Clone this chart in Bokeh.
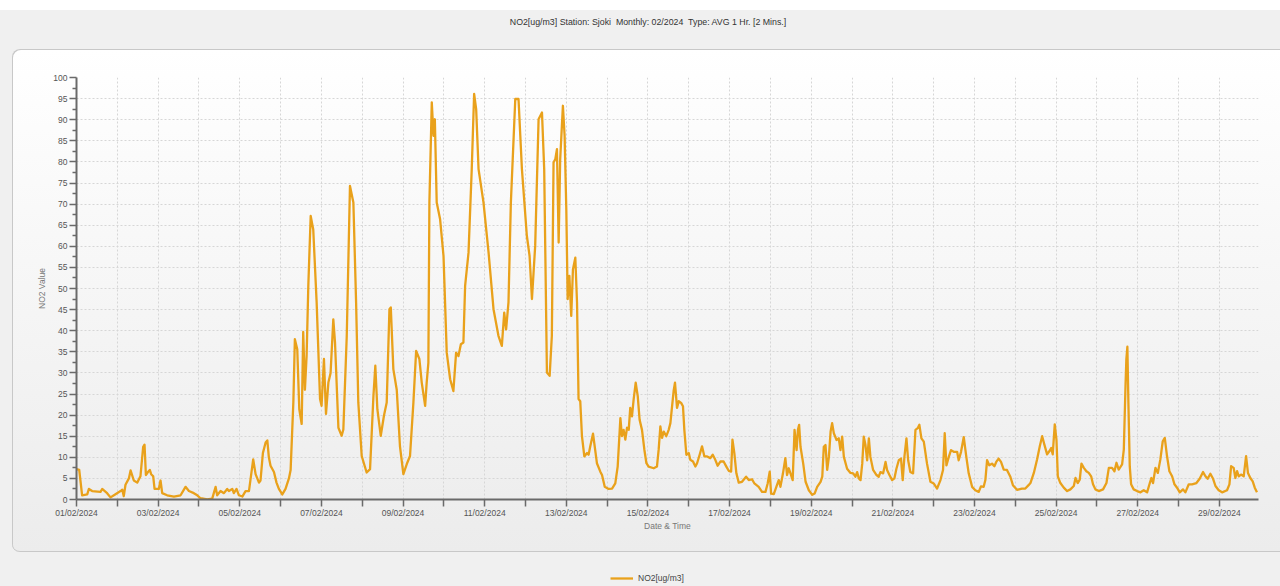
import pandas as pd
from bokeh.plotting import figure
from bokeh.layouts import column
from bokeh.models import (ColumnDataSource, FixedTicker, DatetimeTickFormatter, Legend, LegendItem,
                          Range1d, Div)
from bokeh.embed import file_html
from bokeh.resources import INLINE

# ---------------- data ----------------
title_text = "NO2[ug/m3] Station: Sjoki&nbsp; Monthly: 02/2024&nbsp; Type: AVG 1 Hr. [2 Mins.]"
series_name = "NO2[ug/m3]"
x_title = "Date & Time"
y_title = "NO2 Value"
start = "2024-02-01 00:00"

# hours after 01/02/2024 00:00
hours = [
    0.0, 1.6, 3.3, 6.3, 7.3, 9.2, 14.1, 15.1, 18.0, 20.0, 22.0, 25.9, 26.9, 27.8, 28.8, 30.8, 31.8,
    33.7, 35.7, 37.6, 39.2, 40.0, 40.8, 42.0, 43.1, 43.9, 45.1, 45.9, 48.4, 49.4, 50.4, 53.3, 57.3,
    61.2, 64.1, 66.1, 69.0, 71.0, 72.9, 76.9, 79.8, 81.8, 82.7, 84.7, 86.7, 88.6, 89.6, 91.6, 92.5,
    94.1, 95.5, 97.5, 99.4, 101.4, 103.9, 105.3, 107.3, 108.2, 109.6, 111.2, 112.2, 113.1, 114.1,
    116.1, 117.6, 119.0, 121.0, 122.9, 124.9, 125.9,
    127.5, 128.4, 129.8, 131.0, 132.4, 133.3, 134.3, 135.3, 136.3, 137.7, 139.2, 141.2, 143.2,
    144.1, 145.5, 146.7, 148.1, 149.4, 151.0, 152.0, 154.0, 155.9, 156.9, 158.9, 160.8, 162.8,
    164.4, 165.7, 167.7, 170.6, 172.6, 174.6, 175.7, 176.9, 178.9, 180.8, 182.4, 184.0, 184.8,
    186.3, 188.3, 190.2, 192.2, 194.2, 196.1, 198.1, 199.7, 201.6, 203.0, 205.0, 205.9, 206.9,
    207.5, 208.9, 209.9, 210.7, 211.8, 213.8, 215.8, 217.7, 219.7, 221.6, 223.2, 224.6, 226.0,
    227.5, 228.5, 230.5, 232.4, 233.8, 235.0, 236.4, 239.3, 242.3, 245.2, 248.1, 250.1, 251.5,
    252.6, 254.0, 255.4, 258.0, 259.9, 261.9, 264.8, 266.4, 267.8, 269.7, 271.7, 273.7, 275.0,
    276.6, 278.2, 279.5, 280.5, 281.5, 282.5, 283.5, 284.4, 286.0, 287.0, 288.0, 288.8, 289.8,
    290.9, 291.9, 293.3, 294.3, 295.2,
    296.2, 297.2, 298.6, 300.2, 301.1, 302.1, 303.7, 304.7, 306.0, 308.0, 309.0, 310.6, 312.9,
    314.9, 316.8, 318.2, 319.8, 320.7, 321.7, 322.7, 323.7, 324.7, 325.6, 326.6, 327.6, 328.8,
    330.0, 331.1, 332.5, 333.9, 335.1, 336.4, 339.4, 341.3, 342.3, 343.3, 344.3, 345.3, 346.8,
    348.2, 349.2, 350.2, 351.1, 351.9, 353.1, 354.1, 355.5, 356.6, 357.4, 358.6, 360.0, 360.9,
    362.5, 363.9, 364.9, 366.4, 367.8, 369.2, 370.8, 372.7, 374.1, 375.6, 377.0, 378.6, 380.5,
    382.1, 383.5, 384.9, 385.7, 386.8, 388.0, 389.4, 391.3, 393.7, 395.3, 397.2, 398.6, 401.1,
    403.1, 405.1, 406.4, 407.6, 408.4, 410.0, 411.5, 412.9, 413.9, 415.4, 416.8, 417.8, 418.8,
    419.8, 421.1,
    422.2, 423.4, 424.2, 424.9, 425.7, 427.3, 428.7, 430.6, 432.6, 434.0, 435.5, 437.5, 438.5,
    439.4, 440.4, 441.4, 442.4, 443.4, 444.3, 445.3, 446.9, 448.2, 449.2, 450.2, 451.2, 453.1,
    455.1, 456.7, 458.0, 459.0, 460.0, 461.0, 462.0, 462.9, 463.9, 464.9, 465.9, 466.8, 468.4,
    470.4, 471.7, 472.7, 474.3, 475.7, 476.6, 478.0, 479.6, 480.9, 482.1, 483.5, 484.8, 485.8,
    486.8, 488.0, 489.0, 490.3, 491.9, 493.3, 494.6, 495.6, 496.8, 498.2, 500.1, 502.1, 504.0,
    506.0, 508.0, 509.5, 510.5, 511.5, 512.9, 514.2, 515.8, 517.8, 518.7, 520.1, 521.7, 523.2,
    524.6, 526.6, 528.5, 530.5, 531.8, 533.4, 534.4, 535.4, 536.7, 538.3, 539.7, 540.8, 542.2,
    543.6, 545.2, 547.1, 549.1, 550.6, 553.0, 555.9, 557.9, 559.8,
    560.9, 562.9, 564.8, 566.4, 567.8, 569.1, 570.7, 572.1, 573.1, 574.0, 575.2, 576.2, 577.0,
    578.5, 580.5, 582.5, 584.4, 586.4, 587.4, 588.7, 589.9, 590.9, 592.3, 593.8, 595.2, 596.6,
    597.7, 599.1, 601.1, 603.6, 605.6, 607.0, 608.9, 610.3, 611.5, 612.8, 614.8, 615.8, 616.8,
    617.3, 617.9, 618.5, 619.3, 620.1, 621.6, 623.6, 625.6, 627.5, 629.5, 631.1, 632.0, 633.0,
    634.4, 635.8, 637.3, 638.7, 639.9, 641.2, 642.6, 644.2, 645.6, 647.1, 648.7, 650.6, 652.0,
    654.0, 655.9, 658.5, 660.4, 662.4, 663.8, 665.1, 666.7, 668.3, 669.7, 671.6, 673.6, 676.5,
    677.9, 678.9, 680.4, 681.4, 682.4, 683.4, 684.7, 686.3, 687.7, 688.8, 690.2, 691.6, 692.8,
    694.1,
]

no2 = [
    7.2, 7.0, 1.0, 1.2, 2.5, 2.0, 1.8, 2.5, 1.5, 0.5, 1.0, 2.0, 2.3, 0.8, 3.5, 5.0, 6.9,
    4.5, 4.0, 5.5, 12.5, 13.0, 5.8, 6.5, 7.0, 6.0, 5.5, 2.5, 2.5, 4.5, 1.5, 1.0, 0.7,
    1.0, 3.0, 2.0, 1.5, 1.0, 0.3, 0.0, 0.2, 3.0, 1.0, 2.0, 1.5, 2.5, 2.0, 2.5, 1.5,
    2.5, 1.0, 0.7, 2.0, 2.0, 9.5, 6.0, 4.0, 4.5, 11.0, 13.5, 14.0, 10.0, 8.0,
    6.5, 4.0, 2.5, 1.2, 2.5, 5.0, 7.0,
    23.0, 38.0, 35.6, 21.4, 17.9, 39.7, 26.0, 34.0, 50.6, 67.2, 64.0, 46.7, 23.8,
    22.2, 33.3, 20.3, 27.7, 30.0, 42.7, 37.2, 17.0, 15.1, 16.6, 38.7, 74.3, 70.4,
    46.7, 23.0, 10.3, 6.4, 7.2, 24.6, 31.7, 21.4, 15.1, 19.9, 23.0, 45.1, 45.5,
    30.9, 26.0, 12.6, 6.0, 8.4, 10.3, 23.0, 35.2, 33.3, 27.7, 22.2, 27.7, 32.4,
    70.4, 94.1, 86.2, 90.1, 70.4, 66.4, 57.7, 34.8, 28.5, 25.7, 34.8, 34.0, 36.8,
    37.2, 50.6, 58.5, 78.3, 96.1, 92.5, 78.3, 70.4, 58.5, 45.1, 38.8, 36.4, 44.3,
    40.3, 46.7, 70.4, 94.9, 94.9, 78.3, 62.5, 57.7, 47.5, 60.1, 90.1, 91.7, 78.3,
    30.1, 29.3, 38.8, 79.9, 80.6, 83.0, 60.9, 80.6, 93.3, 86.2, 68.8, 47.5, 53.0,
    43.5, 54.5, 57.3, 46.7, 23.8,
    23.3, 15.0, 10.2, 11.0, 10.6, 12.6, 15.6, 12.6, 8.6, 6.6, 5.8, 3.0, 2.5,
    2.6, 3.8, 7.8, 19.3, 15.0, 16.5, 14.2, 17.0, 16.5, 21.7, 19.7, 23.7, 27.7,
    24.5, 18.9, 16.5, 11.8, 8.6, 7.8, 7.4, 7.8, 11.8, 17.3, 14.6, 16.1, 15.0,
    16.5, 18.1, 22.1, 25.7, 27.7, 21.7, 23.3, 22.9, 22.1, 16.5, 10.6, 11.0, 9.4,
    9.0, 7.8, 8.6, 10.6, 12.6, 10.2, 10.2, 9.8, 10.6, 9.4, 8.0, 9.0, 9.0,
    7.8, 6.8, 6.6, 14.2, 11.0, 6.2, 4.0, 4.2, 5.4, 4.6, 4.8, 3.8, 3.0,
    1.8, 1.8, 3.8, 6.6, 1.4, 1.3, 3.0, 4.6, 3.0, 6.2, 9.8, 5.8, 7.4,
    6.2, 4.6,
    16.5, 11.7, 16.5, 17.7, 12.5, 8.5, 4.2, 2.2, 1.1, 1.4, 3.0, 4.2, 5.4,
    12.5, 12.9, 7.0, 10.1, 16.1, 18.1, 15.7, 14.1, 14.5, 11.7, 14.9, 10.1, 7.3,
    6.3, 6.2, 5.4, 6.5, 5.0, 4.6, 8.5, 14.9, 12.9, 9.3, 14.5, 10.1, 7.0,
    5.8, 5.4, 6.5, 6.2, 8.9, 7.0, 5.8, 4.6, 5.0, 7.3, 9.3, 9.7, 4.6,
    10.1, 14.5, 9.3, 6.5, 6.2, 16.5, 16.9, 17.7, 14.5, 13.7, 8.5, 4.2, 3.8,
    2.6, 4.6, 7.0, 15.7, 8.1, 10.1, 11.7, 11.3, 11.3, 9.3, 11.3, 14.8, 10.1,
    6.2, 3.0, 2.2, 1.8, 3.1, 3.0, 4.6, 9.3, 8.1, 8.5, 7.9, 8.9, 9.7,
    8.9, 7.1, 7.0, 5.4, 3.4, 2.3, 2.6, 2.6, 3.4,
    3.9, 6.3, 9.5, 12.6, 15.0, 13.0, 10.7, 11.5, 12.2, 10.7, 17.8, 14.2, 5.5,
    3.9, 2.8, 2.0, 2.4, 3.2, 5.1, 3.9, 4.7, 8.5, 7.5, 6.7, 6.3, 5.5,
    3.6, 2.4, 2.0, 2.4, 3.9, 7.5, 7.5, 6.7, 8.7, 7.1, 8.3, 11.8, 26.9,
    33.2, 36.2, 22.9, 7.9, 3.6, 2.4, 2.0, 1.7, 2.2, 1.7, 3.9, 5.1, 3.9,
    7.5, 6.3, 9.5, 13.8, 14.6, 10.3, 6.7, 5.5, 3.6, 2.8, 1.7, 2.4, 1.7,
    3.6, 3.6, 3.9, 4.9, 6.5, 5.5, 4.9, 6.1, 4.9, 3.2, 2.2, 1.7, 2.2,
    3.6, 7.9, 7.5, 5.1, 6.7, 5.5, 5.9, 5.5, 10.3, 6.3, 5.1, 4.3, 2.8,
    1.7,
]

label_days = list(range(0, 29, 2))       # 01/02, 03/02, ... 29/02 labelled
unlabelled_days = list(range(1, 29, 2))  # other day ticks
y_ticks = list(range(0, 101, 5))
y_minor = [v + 2.5 for v in range(0, 100, 5)]

# ---------------- build ----------------
t0 = pd.Timestamp(start)
times = [t0 + pd.Timedelta(hours=h) for h in hours]
src = ColumnDataSource(dict(t=times, v=no2))


def ms(day):
    return (t0 + pd.Timedelta(days=day)).value / 1e6


FONT = "Liberation Sans"
W = 1280
LINE_COLOR = "#E9A11B"
BG = "#f0f0f0"

# title band
title = Div(text=title_text, width=W, height=49, margin=0,
            styles={"background": "linear-gradient(#ffffff, #ffffff) 0px 0px / 100% 10px no-repeat, " + BG,
                    "font-family": FONT, "font-size": "8.8px", "color": "#333333",
                    "text-align": "center", "line-height": "44px", "padding-left": "16px",
                    "box-sizing": "border-box"})

# chart panel (rounded, bordered, vertical gradient) starting 12px from the left
p = figure(width=W - 12, height=503, margin=(0, 0, 0, 12), x_axis_type="datetime",
           output_backend="svg", toolbar_location=None,
           x_range=Range1d(t0, t0 + pd.Timedelta(hours=695)), y_range=Range1d(0, 100),
           min_border_left=64, min_border_right=22, min_border_top=28, min_border_bottom=53)
p.border_fill_alpha = 0
p.background_fill_alpha = 0
p.outline_line_color = None
p.styles = {
    "background": "linear-gradient(#ffffff, #ececec)",
    "border-radius": "8px 0px 0px 8px",
    "box-shadow": "inset 1px 1px 0px 0px #c8c8c8, inset 0px -1px 0px 0px #c8c8c8",
}

r = p.line("t", "v", source=src, line_color=LINE_COLOR, line_width=2.3, line_join="round")

# axes
p.xaxis.ticker = FixedTicker(ticks=[ms(d) for d in label_days], minor_ticks=[ms(d) for d in unlabelled_days])
fmt = "%d/%m/%Y"
p.xaxis.formatter = DatetimeTickFormatter(microseconds=fmt, milliseconds=fmt, seconds=fmt, minsec=fmt,
                                          minutes=fmt, hourmin=fmt, hours=fmt, days=fmt, months=fmt, years=fmt)
p.yaxis.ticker = FixedTicker(ticks=y_ticks, minor_ticks=y_minor)
p.xaxis.axis_label = x_title
p.yaxis.axis_label = y_title

for ax in (p.xaxis, p.yaxis):
    ax.axis_line_color = "#6a6a6a"
    ax.axis_line_width = 2
    ax.major_tick_line_color = "#6a6a6a"
    ax.minor_tick_line_color = "#6a6a6a"
    ax.major_tick_line_width = 1.5
    ax.minor_tick_line_width = 1.5
    ax.major_tick_in = 0
    ax.minor_tick_in = 0
    ax.major_label_text_font = FONT
    ax.major_label_text_font_size = "8.5px"
    ax.major_label_text_color = "#555555"
    ax.axis_label_text_font = FONT
    ax.axis_label_text_font_size = "8.5px"
    ax.axis_label_text_color = "#777777"
    ax.axis_label_text_font_style = "normal"

p.xaxis.major_tick_out = 7
p.xaxis.minor_tick_out = 7
p.xaxis.major_label_standoff = 1
p.xaxis.axis_label_standoff = 0
p.yaxis.major_tick_out = 7
p.yaxis.minor_tick_out = 4
p.yaxis.major_label_standoff = 2
p.yaxis.axis_label_standoff = 3

# grid
for gr in (p.xgrid, p.ygrid):
    gr.grid_line_color = "#d6d6d6"
    gr.grid_line_dash = "2 2"
    gr.grid_line_width = 1
p.xgrid.minor_grid_line_color = "#d6d6d6"
p.xgrid.minor_grid_line_dash = "2 2"

# legend strip below the panel (key line shares the series style; it holds no data point)
lg = figure(width=W, height=34, output_backend="svg", toolbar_location=None,
            x_axis_location=None, y_axis_location=None, min_border=0)
lg.border_fill_alpha = 0
lg.background_fill_alpha = 0
lg.styles = {"background": BG}
lg.outline_line_color = None
lg.grid.visible = False
key = lg.line(x=[float("nan")], y=[float("nan")], line_color=LINE_COLOR, line_width=2.3)
legend = Legend(items=[LegendItem(label=series_name, renderers=[key])], location=(546, 2),
                orientation="horizontal", background_fill_alpha=0, border_line_alpha=0,
                padding=0, margin=0, glyph_width=23, glyph_height=12, label_standoff=5,
                label_text_font=FONT, label_text_font_size="8.5px", label_text_color="#444444")
lg.add_layout(legend, "center")

layout = column(title, p, lg, spacing=0, styles={"background": BG})
open("out.html", "w").write(file_html(layout, INLINE))
